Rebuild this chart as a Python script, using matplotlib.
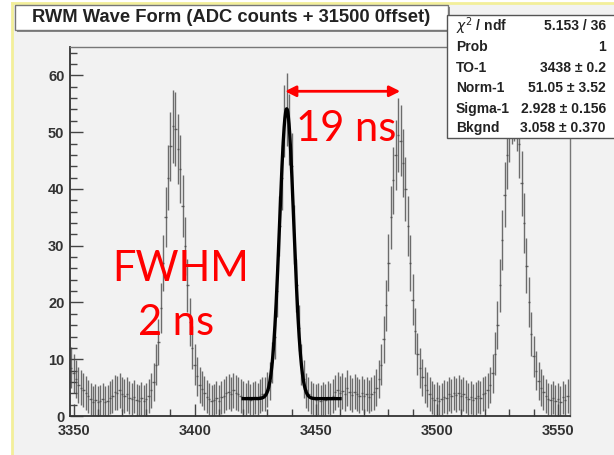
import matplotlib
matplotlib.use("Agg")
import matplotlib.pyplot as plt
from matplotlib.patches import Rectangle
from matplotlib.ticker import MultipleLocator
import numpy as np

# bin centres (1 ns bins) and counts
first_bin = 3349
counts = [
    8.5, 7.5, 6.5, 5.5, 5.0, 4.5, 4.0, 3.5, 3.0, 2.5,
    2.8, 2.5, 2.6, 3.0, 2.4, 2.7, 3.2, 3.6, 4.2, 4.0,
    4.5, 3.8, 3.5, 3.9, 3.2, 3.0, 3.4, 2.8, 2.6, 3.1,
    2.7, 3.0, 3.5, 4.5, 6.0, 9.0, 13.0, 19.0, 27.0, 35.0,
    42.0, 47.5, 51.0, 50.5, 47.0, 43.5, 37.0, 30.0, 23.0, 16.5,
    12.0, 9.0, 7.0, 5.5, 4.8, 4.0, 3.4, 3.0, 2.6, 2.8,
    3.2, 2.7, 3.3, 3.6, 4.0, 4.3, 3.8, 4.5, 4.1, 3.9,
    3.5, 3.2, 3.0, 3.4, 2.9, 3.1, 3.3, 3.0, 3.6, 3.9,
    3.8, 4.6, 6.2, 9.5, 14.0, 22.0, 33.5, 42.0, 52.0, 54.0,
    50.5, 44.0, 32.0, 23.0, 15.5, 9.0, 6.5, 4.5, 3.8, 3.2,
    3.0, 2.8, 3.0, 2.7, 3.1, 2.8, 3.3, 3.0, 3.6, 4.2,
    4.6, 4.0, 4.4, 3.8, 4.9, 4.2, 3.7, 4.3, 3.9, 3.5,
    4.0, 3.6, 3.8, 3.4, 3.9, 4.2, 5.0, 6.5, 9.0, 13.5,
    19.5, 27.0, 35.0, 41.5, 46.0, 49.5, 48.5, 44.5, 40.0, 33.5,
    27.0, 20.5, 15.0, 11.0, 8.5, 6.8, 5.5, 4.6, 3.8, 3.2,
    2.8, 3.1, 2.6, 3.0, 3.4, 3.2, 3.8, 3.5, 4.0, 3.7,
    4.1, 3.6, 3.9, 3.4, 3.0, 3.3, 2.9, 3.1, 3.5, 3.2,
    3.8, 4.0, 4.5, 5.5, 7.5, 11.0, 16.0, 23.0, 31.0, 39.0,
    46.0, 51.0, 54.5, 55.0, 53.0, 48.0, 41.0, 34.0, 26.5, 20.0,
    14.5, 10.5, 8.0, 6.2, 5.0, 4.2, 3.5, 3.0, 2.8, 3.2,
    2.6, 3.0, 2.4, 3.3, 2.9, 3.6,
]
errors = [
    3.6, 3.4, 3.3, 3.2, 3.1, 3.0, 3.0, 2.9, 2.9, 2.8,
    2.8, 2.8, 2.8, 2.9, 2.8, 2.8, 2.9, 3.0, 3.1, 3.0,
    3.1, 3.0, 3.0, 3.0, 2.9, 2.9, 2.9, 2.8, 2.8, 2.9,
    2.8, 2.9, 3.0, 3.1, 3.3, 3.6, 4.0, 4.4, 4.9, 5.3,
    5.8, 6.1, 6.4, 6.5, 6.2, 6.0, 5.5, 5.1, 4.6, 4.2,
    3.8, 3.6, 3.4, 3.2, 3.1, 3.0, 2.9, 2.9, 2.8, 2.8,
    2.9, 2.8, 2.9, 3.0, 3.0, 3.1, 3.0, 3.1, 3.1, 3.0,
    3.0, 2.9, 2.9, 2.9, 2.8, 2.9, 2.9, 2.9, 3.0, 3.0,
    3.0, 3.1, 3.3, 3.6, 4.0, 4.6, 5.3, 5.8, 6.3, 6.5,
    6.3, 5.9, 5.2, 4.6, 4.1, 3.6, 3.3, 3.1, 3.0, 2.9,
    2.9, 2.8, 2.9, 2.8, 2.9, 2.8, 2.9, 2.9, 3.0, 3.1,
    3.1, 3.0, 3.1, 3.0, 3.2, 3.1, 3.0, 3.1, 3.0, 3.0,
    3.0, 3.0, 3.0, 2.9, 3.0, 3.1, 3.2, 3.4, 3.6, 4.1,
    4.5, 5.0, 5.5, 5.9, 6.2, 6.5, 6.3, 6.0, 5.7, 5.3,
    4.9, 4.5, 4.0, 3.7, 3.5, 3.3, 3.2, 3.1, 3.0, 2.9,
    2.9, 2.9, 2.8, 2.9, 2.9, 2.9, 3.0, 3.0, 3.0, 3.0,
    3.1, 3.0, 3.0, 2.9, 2.9, 2.9, 2.8, 2.9, 2.9, 2.9,
    3.0, 3.0, 3.1, 3.2, 3.4, 3.8, 4.2, 4.7, 5.2, 5.7,
    6.0, 6.3, 6.5, 6.5, 6.4, 6.1, 5.7, 5.3, 4.8, 4.4,
    3.9, 3.6, 3.4, 3.3, 3.2, 3.1, 3.0, 2.9, 2.9, 2.9,
    2.8, 2.9, 2.8, 2.9, 2.8, 3.0,
]
bins = np.arange(first_bin, first_bin + len(counts))

# fit results shown in the stats box (gaus + constant)
fit_t0 = 3438
fit_norm = 51.05
fit_sigma = 2.928
fit_bkg = 3.058
fit_range = (3420, 3460)

title = "RWM Wave Form (ADC counts + 31500 0ffset)"
stat_names = [r"$\chi^2$ / ndf", "Prob", "TO-1", "Norm-1", "Sigma-1", "Bkgnd"]
stat_values = ["5.153 / 36", "1", "3438 \u00b1 0.2", "51.05 \u00b1 3.52",
               "2.928 \u00b1 0.156", "3.058 \u00b1 0.370"]

W, H = 614, 455
fig = plt.figure(figsize=(W / 100, H / 100), dpi=100)
fig.patch.set_facecolor("white")

# grey canvas with yellow border on left/top
fig.patches.append(Rectangle((12 / W, 0), 1, 1 - 3 / H, transform=fig.transFigure,
                             facecolor="#f2f2f2", edgecolor="none", zorder=-10))
fig.add_artist(plt.Line2D([12 / W, 12 / W], [0, 1 - 3 / H], transform=fig.transFigure,
                          color="#f3ef9a", lw=2, zorder=-9))
fig.add_artist(plt.Line2D([12 / W, 1], [1 - 3 / H, 1 - 3 / H], transform=fig.transFigure,
                          color="#f3ef9a", lw=2, zorder=-9))

ax = fig.add_axes([70 / W, 1 - 416 / H, 500 / W, 369 / H])
ax.set_zorder(1)
ax.set_facecolor("#f2f2f2")

ax.errorbar(bins, counts, yerr=errors, xerr=0.5, fmt="none", ecolor="#4a4a4a",
            elinewidth=1.0, alpha=0.8, zorder=2)

# fit curve
xf = np.linspace(fit_range[0], fit_range[1], 400)
yf = fit_bkg + fit_norm * np.exp(-0.5 * ((xf - fit_t0) / fit_sigma) ** 2)
ax.plot(xf, yf, color="black", lw=2.4, zorder=3)

ax.set_xlim(3348.5, 3555)
ax.set_ylim(0, 65)
ax.xaxis.set_major_locator(MultipleLocator(50))
ax.xaxis.set_minor_locator(MultipleLocator(10))
ax.yaxis.set_major_locator(MultipleLocator(10))
ax.yaxis.set_minor_locator(MultipleLocator(2))
ax.tick_params(which="both", direction="in", top=False, right=False,
               colors="#444444", labelcolor="#333333")
ax.tick_params(which="major", length=9, width=1)
ax.tick_params(which="minor", length=5, width=1)
for lab in ax.get_xticklabels() + ax.get_yticklabels():
    lab.set_fontfamily("Liberation Sans")
    lab.set_fontweight("bold")
    lab.set_fontsize(10.5)
ax.tick_params(axis="x", pad=6)
ax.tick_params(axis="y", pad=4)
for s in ["left", "bottom"]:
    ax.spines[s].set_color("#333333")
    ax.spines[s].set_linewidth(1.3)
for s in ["top", "right"]:
    ax.spines[s].set_color("#777777")
    ax.spines[s].set_linewidth(1.0)

# red annotations
red = "#ff0000"
ax.annotate("", xy=(3437.3, 57.2), xytext=(3484.9, 57.2),
            arrowprops=dict(arrowstyle="<|-|>", color=red, lw=2,
                            mutation_scale=16, shrinkA=0, shrinkB=0), zorder=6)
ax.text(3462.6, 50.6, "19 ns", color=red, fontsize=30, family="Lato",
        ha="center", va="center", zorder=6)
ax.text(3394, 25.9, "FWHM", color=red, fontsize=30, family="Lato",
        ha="center", va="center", zorder=6)
ax.text(3392.3, 16.4, "2 ns", color=red, fontsize=30, family="Lato",
        ha="center", va="center", zorder=6)

# title box with shadow
fig.patches.append(Rectangle((17 / W, 1 - 32 / H), 433 / W, 25 / H, transform=fig.transFigure,
                             facecolor="#888888", edgecolor="none", zorder=4))
fig.patches.append(Rectangle((15 / W, 1 - 30 / H), 433 / W, 25 / H, transform=fig.transFigure,
                             facecolor="white", edgecolor="#777777", lw=1, zorder=5))
fig.text(231 / W, 1 - 17.5 / H, title, ha="center", va="center", fontsize=13.2,
         family="Liberation Sans", weight="bold", color="#222222", zorder=6)

# stats box
fig.patches.append(Rectangle((447 / W, 1 - 138 / H), 170 / W, 123 / H, transform=fig.transFigure,
                             facecolor="white", edgecolor="#555555", lw=1, zorder=5))
row_y = [26, 47, 68, 88, 109, 128]
for name, val, yy in zip(stat_names, stat_values, row_y):
    fig.text(456 / W, 1 - yy / H, name, ha="left", va="center", fontsize=10,
             family="Liberation Sans", weight="bold", color="#222222", zorder=6)
    fig.text(606 / W, 1 - yy / H, val, ha="right", va="center", fontsize=10,
             family="Liberation Sans", weight="bold", color="#222222", zorder=6)

fig.savefig("out.png", dpi=100)
